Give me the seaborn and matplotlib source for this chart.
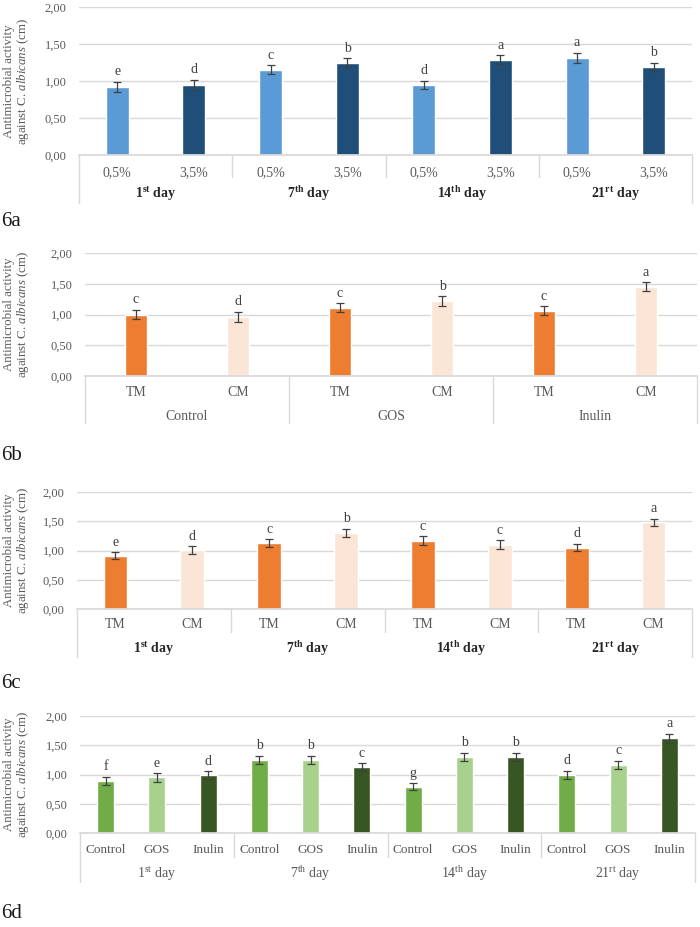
import numpy as np
import pandas as pd
import seaborn as sns
import matplotlib.pyplot as plt
from matplotlib.transforms import blended_transform_factory

# 6a - concentration x storage day
a_conc = ["0,5%", "3,5%"] * 4
a_treat = ["0,5%", "3,5%"] * 4
a_values = [0.92, 0.95, 1.155, 1.25, 0.95, 1.29, 1.31, 1.19]
a_errors = [0.07, 0.07, 0.06, 0.055, 0.055, 0.06, 0.07, 0.055]
a_letters = ["e", "d", "c", "b", "d", "a", "a", "b"]

# 6b - milk type x prebiotic
b_milk = ["TM", "CM"] * 3
b_groups = ["Control", "GOS", "Inulin"]
b_values = [1.00, 0.96, 1.11, 1.22, 1.06, 1.45]
b_errors = [0.075, 0.085, 0.07, 0.075, 0.075, 0.075]
b_letters = ["c", "d", "c", "b", "c", "a"]

# 6c - milk type x storage day
c_milk = ["TM", "CM"] * 4
c_values = [0.91, 1.01, 1.13, 1.30, 1.17, 1.10, 1.05, 1.48]
c_errors = [0.062, 0.065, 0.062, 0.068, 0.074, 0.074, 0.065, 0.062]
c_letters = ["e", "d", "c", "b", "c", "c", "d", "a"]

# 6d - prebiotic x storage day
d_prebio = ["Control", "GOS", "Inulin"] * 4
d_values = [0.89, 0.95, 0.99, 1.25, 1.25, 1.125, 0.79, 1.30, 1.30, 0.99, 1.165, 1.62]
d_errors = [0.074, 0.07, 0.07, 0.074, 0.074, 0.07, 0.057, 0.068, 0.068, 0.074, 0.07, 0.074]
d_letters = ["f", "e", "d", "b", "b", "c", "g", "b", "b", "d", "c", "a"]

day_num = ["1", "7", "14", "21"]
day_sup = ["st", "th", "th", "rt"]

sns.set_theme(style="whitegrid")
plt.rcParams["font.family"] = ["Liberation Serif", "DejaVu Serif"]
plt.rcParams["mathtext.fontset"] = "custom"
plt.rcParams["mathtext.rm"] = "Liberation Serif"
plt.rcParams["mathtext.it"] = "Liberation Serif:italic"
plt.rcParams["mathtext.bf"] = "Liberation Serif:bold"

W, H = 700, 927
fig = plt.figure(figsize=(W / 100, H / 100), dpi=100)


def py(p):
    return 1 - p / H


def day_labels(bold):
    if bold:
        return [n + r"$^{\mathbf{" + s + "}}$ day" for n, s in zip(day_num, day_sup)]
    return [n + r"$^{\mathrm{" + s + "}}$ day" for n, s in zip(day_num, day_sup)]


def panel(box, values, errors, letters, treat, inner, groups, palette, width,
          rows, full_seps=False, bold=False, inner_size=10, group_size=10):
    x0, x1, y0, y1 = box
    ax = fig.add_axes([x0 / W, 1 - y1 / H, (x1 - x0) / W, (y1 - y0) / H])
    n = len(values)
    df = pd.DataFrame({"bar": [str(i) for i in range(n)], "value": values, "treat": treat})
    sns.barplot(data=df, x="bar", y="value", hue="treat", palette=palette, dodge=False,
                width=width, legend=False, errorbar=None, saturation=1, ax=ax, zorder=2)
    ax.errorbar(np.arange(n), values, yerr=errors, fmt="none", ecolor="#404040",
                elinewidth=0.9, capsize=3, capthick=0.9, zorder=3)
    for i, (v, e, l) in enumerate(zip(values, errors, letters)):
        ax.annotate(l, (i, v + e), xytext=(0, 2.5), textcoords="offset points",
                    ha="center", va="bottom", fontsize=10, color="#404040")
    ax.set_xlim(-0.5, n - 0.5)
    ax.set_ylim(0, 2)
    ticks = np.arange(0, 2.01, 0.5)
    ax.set_yticks(ticks)
    ax.set_yticklabels([f"{t:.2f}".replace(".", ",") for t in ticks])
    ax.set_xticks([])
    ax.set_xlabel("")
    ax.set_ylabel("")
    ax.grid(axis="y", color="#D9D9D9", lw=1)
    ax.grid(axis="x", visible=False)
    for s in ["left", "right", "top"]:
        ax.spines[s].set_visible(False)
    ax.spines["bottom"].set_color("#D9D9D9")
    ax.tick_params(axis="y", length=0, labelsize=9, labelcolor="#595959", pad=9)

    # ylabel
    fig.text(17 / W, py((y0 + y1) / 2),
             "Antimicrobial activity\n" + r"against C. $\mathit{albicans}$ (cm)",
             rotation=90, ha="center", va="center", fontsize=9.3, color="#595959",
             multialignment="center", linespacing=1.0)

    # multi-level category axis
    inner_y, sep_y, group_y, bottom_y = rows
    tr = blended_transform_factory(ax.transData, fig.transFigure)
    for i, lab in enumerate(inner):
        ax.text(i, py(inner_y), lab, transform=tr, ha="center", va="center",
                fontsize=inner_size, color="#595959")
    k = n // len(groups)
    for g, lab in enumerate(groups):
        ax.text(g * k + (k - 1) / 2, py(group_y), lab, transform=tr, ha="center",
                va="center", fontsize=group_size,
                color="#262626" if bold else "#595959",
                fontweight="bold" if bold else "normal")
    for g in range(len(groups) + 1):
        edge = g == 0 or g == len(groups)
        end = bottom_y if (edge or full_seps) else sep_y
        ax.plot([g * k - 0.5] * 2, [py(y1), py(end)], transform=tr,
                color="#D9D9D9", lw=1, clip_on=False)
    return ax


panel((79, 692, 7, 155), a_values, a_errors, a_letters, a_treat, a_conc,
      day_labels(True), {"0,5%": "#5B9BD5", "3,5%": "#1F4E79"}, 0.30,
      (173, 177, 194, 203), bold=True)
panel((85, 697, 253, 376), b_values, b_errors, b_letters, b_milk, b_milk,
      b_groups, {"TM": "#ED7D31", "CM": "#FBE5D6"}, 0.22,
      (393, 423, 416, 423), full_seps=True)
panel((77, 692, 492, 609), c_values, c_errors, c_letters, c_milk, c_milk,
      day_labels(True), {"TM": "#ED7D31", "CM": "#FBE5D6"}, 0.31,
      (624, 632, 649, 657), bold=True)
panel((80, 695, 716, 833), d_values, d_errors, d_letters, d_prebio, d_prebio,
      day_labels(False), {"Control": "#70AD47", "GOS": "#A9D18E", "Inulin": "#375623"},
      0.33, (850, 857, 874, 882), inner_size=9.5)

for lab, y in [("6a", 222), ("6b", 456), ("6c", 684), ("6d", 914)]:
    fig.text(0.002, py(y), lab, fontsize=15, ha="left", va="center", color="#1a1a1a")

fig.savefig("out.png", dpi=100)
